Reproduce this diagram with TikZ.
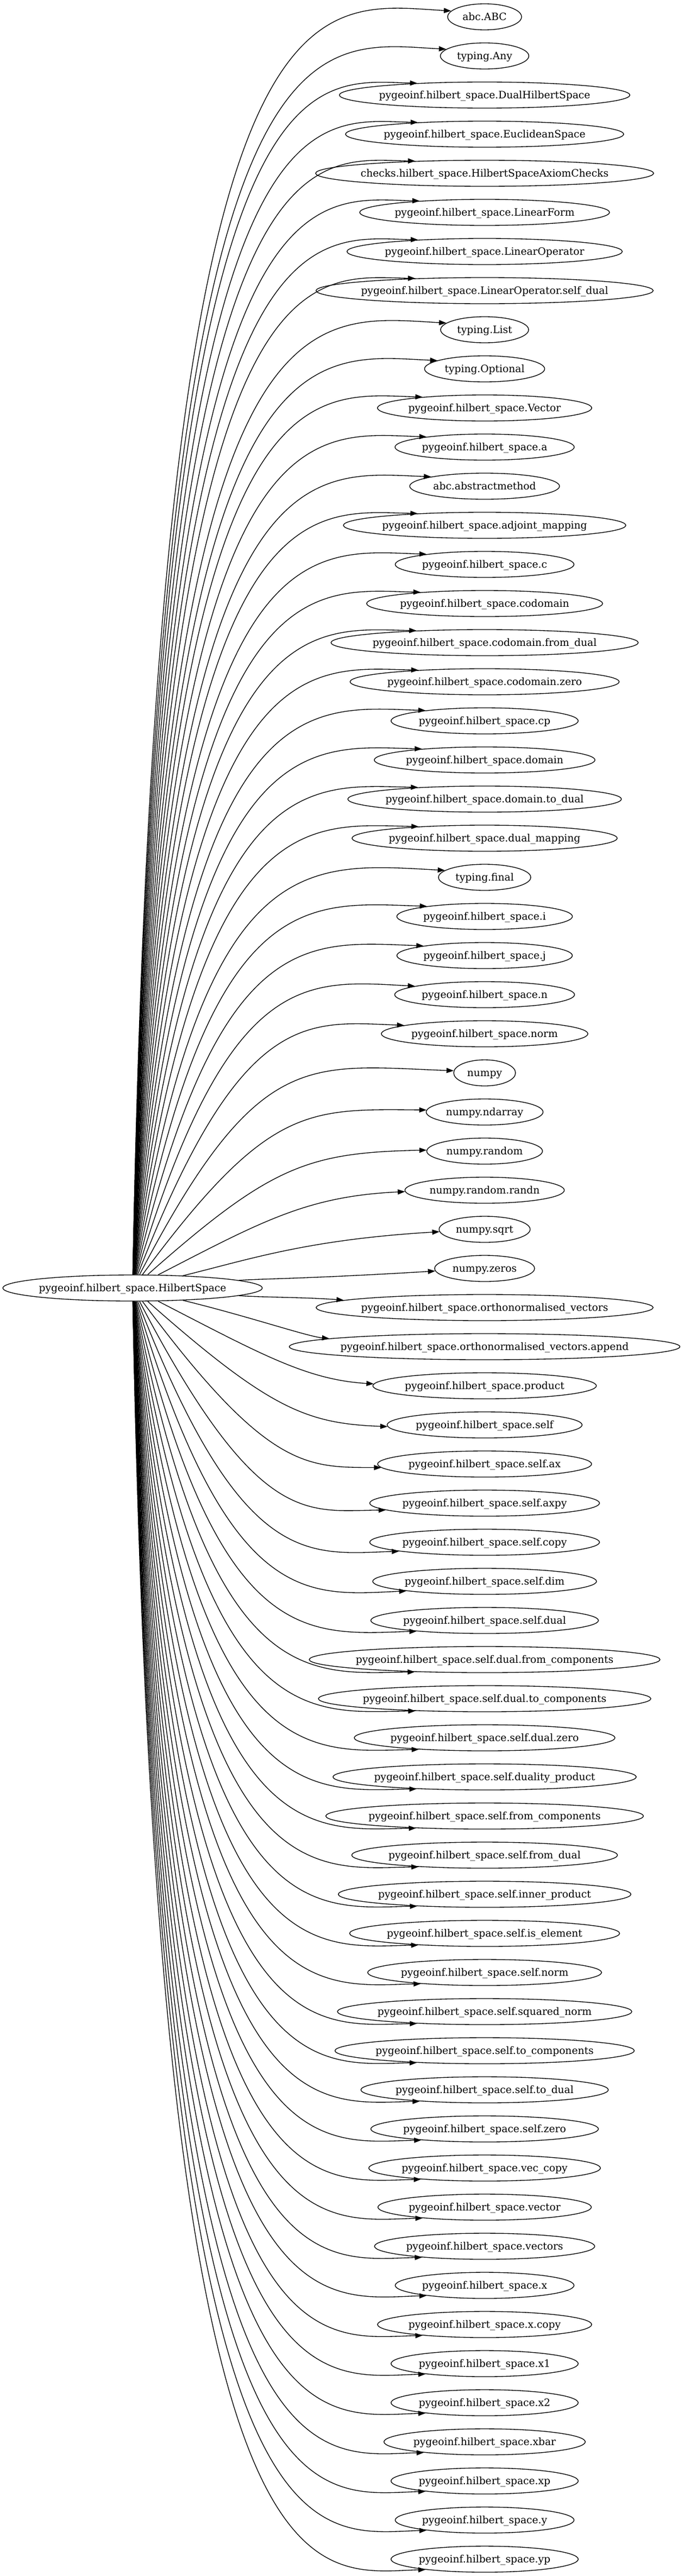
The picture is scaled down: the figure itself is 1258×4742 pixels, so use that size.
\documentclass[tikz,border=0pt]{standalone}
\usepackage{fontspec}
\setmainfont{DejaVu Serif}
\usepackage{tikz}
\usetikzlibrary{shapes.geometric, arrows.meta}

\newcommand\modfont{\fontsize{14pt}{17pt}\selectfont}
\newcommand\modtext[1]{\makebox[0.917\width]{#1}}
\tikzset{
  modnode/.style={ellipse, draw, line width=1pt, inner xsep=8.1pt, inner ysep=0pt,
    minimum height=36pt, text height=13pt, text depth=3.3pt, font=\modfont},
  dep/.style={line width=1pt, -{Triangle[length=10pt,width=7pt]}}
}

\begin{document}
\begin{tikzpicture}[x=0.75pt,y=0.75pt,yscale=-1,xscale=1]
%set diagram left start at 0, and has height of 4742
\useasboundingbox (0,0) rectangle (1258,4742);

% Text Node
\node[modnode] (hs) at (244,2371) {\modtext{pygeoinf.hilbert\_space.HilbertSpace}};

% Text Nodes, one every 72
\foreach \lbl [count=\i from 0] in {abc.ABC, typing.Any,
  pygeoinf.hilbert\_space.DualHilbertSpace, pygeoinf.hilbert\_space.EuclideanSpace,
  checks.hilbert\_space.HilbertSpaceAxiomChecks, pygeoinf.hilbert\_space.LinearForm,
  pygeoinf.hilbert\_space.LinearOperator, pygeoinf.hilbert\_space.LinearOperator.self\_dual,
  typing.List, typing.Optional, pygeoinf.hilbert\_space.Vector, pygeoinf.hilbert\_space.a,
  abc.abstractmethod, pygeoinf.hilbert\_space.adjoint\_mapping, pygeoinf.hilbert\_space.c,
  pygeoinf.hilbert\_space.codomain, pygeoinf.hilbert\_space.codomain.from\_dual,
  pygeoinf.hilbert\_space.codomain.zero, pygeoinf.hilbert\_space.cp,
  pygeoinf.hilbert\_space.domain, pygeoinf.hilbert\_space.domain.to\_dual,
  pygeoinf.hilbert\_space.dual\_mapping, typing.final, pygeoinf.hilbert\_space.i,
  pygeoinf.hilbert\_space.j, pygeoinf.hilbert\_space.n, pygeoinf.hilbert\_space.norm,
  numpy, numpy.ndarray, numpy.random, numpy.random.randn, numpy.sqrt, numpy.zeros,
  pygeoinf.hilbert\_space.orthonormalised\_vectors,
  pygeoinf.hilbert\_space.orthonormalised\_vectors.append,
  pygeoinf.hilbert\_space.product, pygeoinf.hilbert\_space.self,
  pygeoinf.hilbert\_space.self.ax, pygeoinf.hilbert\_space.self.axpy,
  pygeoinf.hilbert\_space.self.copy, pygeoinf.hilbert\_space.self.dim,
  pygeoinf.hilbert\_space.self.dual, pygeoinf.hilbert\_space.self.dual.from\_components,
  pygeoinf.hilbert\_space.self.dual.to\_components, pygeoinf.hilbert\_space.self.dual.zero,
  pygeoinf.hilbert\_space.self.duality\_product, pygeoinf.hilbert\_space.self.from\_components,
  pygeoinf.hilbert\_space.self.from\_dual, pygeoinf.hilbert\_space.self.inner\_product,
  pygeoinf.hilbert\_space.self.is\_element, pygeoinf.hilbert\_space.self.norm,
  pygeoinf.hilbert\_space.self.squared\_norm, pygeoinf.hilbert\_space.self.to\_components,
  pygeoinf.hilbert\_space.self.to\_dual, pygeoinf.hilbert\_space.self.zero,
  pygeoinf.hilbert\_space.vec\_copy, pygeoinf.hilbert\_space.vector,
  pygeoinf.hilbert\_space.vectors, pygeoinf.hilbert\_space.x,
  pygeoinf.hilbert\_space.x.copy, pygeoinf.hilbert\_space.x1,
  pygeoinf.hilbert\_space.x2, pygeoinf.hilbert\_space.xbar,
  pygeoinf.hilbert\_space.xp, pygeoinf.hilbert\_space.y,
  pygeoinf.hilbert\_space.yp}{
  \node[modnode] (t\i) at (892,{31+72*\i}) {\modtext{\lbl}};
}

% Curved Lines
\foreach \i in {0,...,65}{
  \pgfmathsetmacro\yt{31+72*\i}
  \pgfmathsetmacro\dh{2371-\yt}
  \pgfmathsetmacro\sg{\dh>0 ? 1 : -1}
  \pgfmathsetmacro\ah{abs(\dh)}
  \pgfmathsetmacro\kx{1100/(\ah/100+0.8)}
  \pgfmathsetmacro\ky{\yt-\sg*(31+0.04*\ah)-2371}
  \pgfmathsetmacro\ang{atan2(\ky,\kx)}
  \pgfmathsetmacro\rb{24/sqrt((0.1004*cos(\ang))^2+(sin(\ang))^2)}
  \pgfmathsetmacro\lone{min(veclen(\kx,\ky)-\rb,1.2*\ah)}
  \pgfmathsetmacro\px{244+(\rb+\lone)*cos(\ang)}
  \pgfmathsetmacro\py{2371+(\rb+\lone)*sin(\ang)}
  \pgfmathtruncatemacro\anc{max(170,min(183,186-0.024*\ah))}
  \pgfmathtruncatemacro\anc{\sg>0 ? \anc : 360-\anc}
  \pgfmathsetmacro\qy{\yt+\sg*(-26+45*max(0,min(1,(500-\ah)/390)))}
  \draw[dep] (hs) .. controls (\px,\py) and (565,\qy) .. (t\i.\anc);
}

\end{tikzpicture}
\end{document}
